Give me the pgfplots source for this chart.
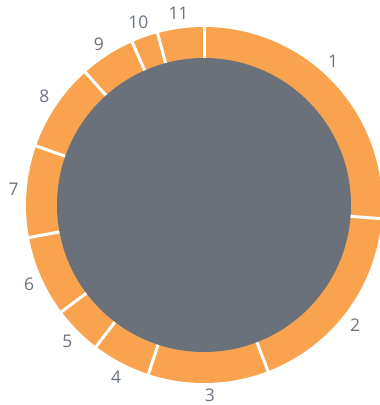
\documentclass[border=0pt]{standalone}
\usepackage{pgfplots}
\usepackage{pgfplotstable}
\pgfplotsset{compat=1.18}
\usepackage{fontspec}
\setmainfont{Open Sans}

\definecolor{ringorange}{HTML}{F9A34F}
\definecolor{coregray}{HTML}{6A717B}
\definecolor{labelgray}{HTML}{6B7380}

% share of each segment (percent), clockwise from 12 o'clock,
% and the direction (degrees) and distance of its label
\pgfplotstableread{
name share dir    dist
1    26.2   48.0  193
2    17.9  -38.5  193
3    10.9  -88.2  190
4     5.3 -117.1  193
5     4.4 -135.1  193
6     7.3 -155.6  192
7     8.3  175.2  191
8     8.0  145.8  193
9     5.0  123.2  192
10    2.4  109.8  194
11    4.2   97.6  193
}\segtable

\begin{document}
\begin{tikzpicture}
\begin{axis}[
  hide axis,
  x=1bp, y=1bp,
  xmin=-204, xmax=176,
  ymin=-200, ymax=205,
  clip=true,
]
\def\Rout{178}
\def\Rin{147}
\pgfplotstablegetrowsof{\segtable}
\pgfmathtruncatemacro\lastrow{\pgfplotsretval-1}
% total of all shares, and degrees per unit share
\def\total{0}
\pgfplotsforeachungrouped \row in {0,...,\lastrow} {%
  \pgfplotstablegetelem{\row}{share}\of\segtable
  \pgfmathsetmacro\total{\total+\pgfplotsretval}%
}
\pgfmathsetmacro\degper{360/\total}
% ring segments
\def\cum{0}
\pgfplotsforeachungrouped \row in {0,...,\lastrow} {%
  \pgfplotstablegetelem{\row}{share}\of\segtable
  \let\v\pgfplotsretval
  \pgfmathsetmacro\a{90-\degper*\cum}%
  \pgfmathsetmacro\b{90-\degper*(\cum+\v)}%
  \edef\doit{\noexpand\fill[ringorange] (axis cs:0,0) -- (axis cs:{\Rout*cos(\a)},{\Rout*sin(\a)})
    arc[start angle=\a, end angle=\b, radius=\Rout bp] -- cycle;}%
  \doit
  \pgfmathsetmacro\cum{\cum+\v}%
}
% white separators between segments
\def\cum{0}
\pgfplotsforeachungrouped \row in {0,...,\lastrow} {%
  \pgfplotstablegetelem{\row}{share}\of\segtable
  \let\v\pgfplotsretval
  \pgfmathsetmacro\a{90-\degper*\cum}%
  \edef\doit{\noexpand\draw[white, line width=3bp] (axis cs:0,0) -- (axis cs:{(\Rout+2)*cos(\a)},{(\Rout+2)*sin(\a)});}%
  \doit
  \pgfmathsetmacro\cum{\cum+\v}%
}
% inner disk
\fill[coregray] (axis cs:0,0) circle[radius=\Rin bp];
% segment labels
\pgfplotsforeachungrouped \row in {0,...,\lastrow} {%
  \pgfplotstablegetelem{\row}{dir}\of\segtable
  \let\d\pgfplotsretval
  \pgfplotstablegetelem{\row}{dist}\of\segtable
  \let\r\pgfplotsretval
  \pgfplotstablegetelem{\row}{name}\of\segtable
  \let\n\pgfplotsretval
  \edef\doit{\noexpand\node[text=labelgray, font=\noexpand\fontsize{17.5}{20}\noexpand\selectfont, inner sep=0pt]
    at (axis cs:{\r*cos(\d)},{\r*sin(\d)}) {\n};}%
  \doit
}
\end{axis}
% the page is exactly the plotting area
\pgfresetboundingbox
\path (current axis.south west) rectangle (current axis.north east);
\end{tikzpicture}
\end{document}
